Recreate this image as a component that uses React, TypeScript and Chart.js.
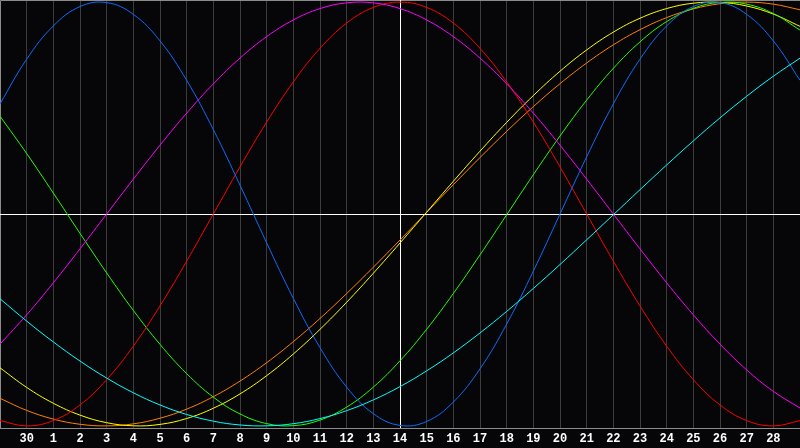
import React, { useEffect, useRef } from "react";
import { Chart, registerables } from "chart.js";

Chart.register(...registerables);

// x positions of the samples (0 = left edge, 30 = right edge)
const POSITIONS = [0,1,2,3,4,5,6,7,8,9,10,11,12,13,14,15,16,17,18,19,20,21,22,23,24,25,26,27,28,29,30];

// tick positions and their day labels
const TICK_POSITIONS = [1,2,3,4,5,6,7,8,9,10,11,12,13,14,15,16,17,18,19,20,21,22,23,24,25,26,27,28,29];
const TICK_LABELS = ["30","1","2","3","4","5","6","7","8","9","10","11","12","13","14","15","16","17","18","19","20","21","22","23","24","25","26","27","28"];

const TODAY_POSITION = 15;

const BLUE = [0.5197,0.7308,0.8876,0.9791,0.9977,0.9423,0.8170,0.6310,0.3984,0.1362,-0.1362,-0.3984,-0.6310,-0.8170,-0.9423,-0.9977,-0.9791,-0.8876,-0.7308,-0.5197,-0.2698,0.0000,0.2698,0.5197,0.7308,0.8876,0.9791,0.9977,0.9423,0.8170,0.6310];
const RED = [-0.9749,-1.0,-0.9749,-0.9010,-0.7818,-0.6235,-0.4339,-0.2225,0,0.2225,0.4339,0.6235,0.7818,0.9010,0.9749,1.0,0.9749,0.9010,0.7818,0.6235,0.4339,0.2225,0,-0.2225,-0.4339,-0.6235,-0.7818,-0.9010,-0.9749,-1.0,-0.9749];
const MAGENTA = [-0.6142,-0.4759,-0.3247,-0.1646,0,0.1646,0.3247,0.4759,0.6142,0.7357,0.8372,0.9158,0.9694,0.9966,0.9966,0.9694,0.9158,0.8372,0.7357,0.6142,0.4759,0.3247,0.1646,0,-0.1646,-0.3247,-0.4759,-0.6142,-0.7357,-0.8372,-0.9158];
const GREEN = [0.4616,0.2854,0.0988,-0.0913,-0.2781,-0.4549,-0.6152,-0.7533,-0.8643,-0.9437,-0.9893,-0.9990,-0.9726,-0.9113,-0.8170,-0.6929,-0.5439,-0.3752,-0.1930,-0.0038,0.1855,0.3681,0.5375,0.6873,0.8124,0.9081,0.9709,0.9987,0.9904,0.9462,0.8681];
const YELLOW = [-0.7260,-0.8184,-0.8932,-0.9492,-0.9849,-0.9996,-0.9930,-0.9652,-0.9167,-0.8491,-0.7630,-0.6607,-0.5444,-0.4165,-0.2797,-0.1370,0.0088,0.1543,0.2965,0.4323,0.5589,0.6737,0.7743,0.8584,0.9239,0.9696,0.9949,0.9989,0.9817,0.9435,0.8856];
const ORANGE = [-0.8699,-0.9269,-0.9679,-0.9924,-1.0,-0.9904,-0.9638,-0.9209,-0.8621,-0.7886,-0.7016,-0.6024,-0.4931,-0.3754,-0.2512,-0.1227,0.0079,0.1384,0.2664,0.3900,0.5068,0.6151,0.7127,0.7984,0.8699,0.9269,0.9679,0.9924,1.0,0.9904,0.9638];
const CYAN = [-0.3999,-0.5055,-0.6038,-0.6940,-0.7743,-0.8437,-0.9013,-0.9462,-0.9778,-0.9957,-0.9997,-0.9896,-0.9656,-0.9280,-0.8774,-0.8146,-0.7403,-0.6556,-0.5615,-0.4598,-0.3515,-0.2384,-0.1218,-0.0036,0.1147,0.2314,0.3449,0.4535,0.5557,0.6502,0.7355];

const SERIES: { values: number[]; color: string }[] = [
  { values: CYAN, color: "#00ffff" },
  { values: BLUE, color: "#0a6cff" },
  { values: MAGENTA, color: "#ff00ff" },
  { values: RED, color: "#ff0000" },
  { values: GREEN, color: "#22ff00" },
  { values: YELLOW, color: "#ffff00" },
  { values: ORANGE, color: "#ff8000" },
];

const framePlugin = {
  id: "frame",
  beforeDraw(chart: any) {
    const ctx = chart.ctx;
    ctx.save();
    ctx.fillStyle = "#060608";
    ctx.fillRect(0, 0, chart.width, chart.height);
    ctx.restore();
  },
  beforeDatasetsDraw(chart: any) {
    const ctx = chart.ctx;
    const a = chart.chartArea;
    const xs = chart.scales.x;
    const ys = chart.scales.y;
    ctx.save();
    ctx.lineWidth = 1;
    // frame
    ctx.strokeStyle = "#8c8c8c";
    ctx.beginPath();
    ctx.moveTo(0.5, a.bottom + 0.5);
    ctx.lineTo(0.5, 0.5);
    ctx.lineTo(a.right, 0.5);
    ctx.moveTo(0, Math.round(a.bottom) + 0.5);
    ctx.lineTo(a.right, Math.round(a.bottom) + 0.5);
    ctx.stroke();
    // center line and today line
    ctx.strokeStyle = "#ffffff";
    const y0 = Math.round(ys.getPixelForValue(0)) + 0.5;
    const xT = Math.round(xs.getPixelForValue(TODAY_POSITION)) + 0.5;
    ctx.beginPath();
    ctx.moveTo(a.left, y0);
    ctx.lineTo(a.right, y0);
    ctx.moveTo(xT, a.top);
    ctx.lineTo(xT, a.bottom);
    ctx.stroke();
    ctx.restore();
  },
};

export default function App() {
  const ref = useRef<HTMLCanvasElement | null>(null);
  useEffect(() => {
    if (!ref.current) return;
    const chart = new Chart(ref.current, {
      type: "line",
      data: {
        datasets: SERIES.map((s) => ({
          data: POSITIONS.map((x, i) => ({ x, y: s.values[i] })),
          borderColor: s.color,
          borderWidth: 1,
          pointRadius: 0,
          tension: 0.4,
          fill: false,
        })),
      },
      options: {
        responsive: false,
        maintainAspectRatio: false,
        animation: false,
        events: [],
        layout: { padding: 0 },
        plugins: { legend: { display: false }, tooltip: { enabled: false } },
        scales: {
          x: {
            type: "linear",
            min: 0,
            max: 30,
            afterBuildTicks: (s: any) => {
              s.ticks = TICK_POSITIONS.map((v) => ({ value: v }));
            },
            afterFit: (s: any) => {
              s.height = 20;
            },
            ticks: {
              color: "#ffffff",
              autoSkip: false,
              maxRotation: 0,
              padding: 4,
              font: { family: '"Liberation Mono", monospace', size: 12, weight: "bold" },
              callback: (v: any) => TICK_LABELS[TICK_POSITIONS.indexOf(Number(v))],
            },
            grid: { color: "#3c3c3c", drawTicks: false, lineWidth: 1 },
            border: { display: false },
          },
          y: { display: false, min: -1.01, max: 1.01 },
        },
      } as any,
      plugins: [framePlugin],
    });
    return () => chart.destroy();
  }, []);
  return (
    <div style={{ position: "absolute", left: 0, top: 0, width: 800, height: 448, background: "#060608" }}>
      <canvas ref={ref} width={800} height={448} style={{ display: "block" }} />
    </div>
  );
}
